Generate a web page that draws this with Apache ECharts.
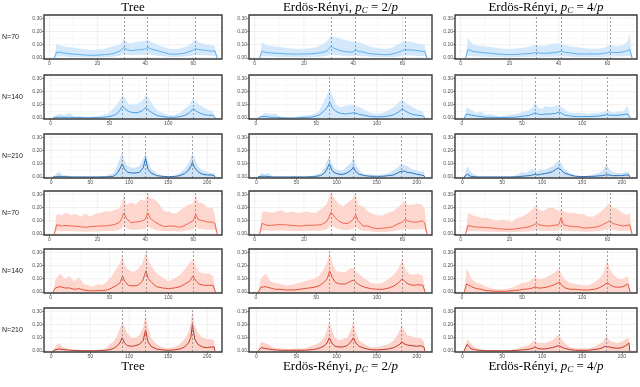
<!DOCTYPE html>
<html>
<head>
<meta charset="utf-8">
<script src="https://cdn.jsdelivr.net/npm/echarts@6/dist/echarts.min.js"></script>
<style>
  html, body { margin: 0; padding: 0; background: #fff; }
  #main { width: 640px; height: 387px; }
</style>
</head>
<body>
<div id="main"></div>
<script>
// column titles (rich text) and row labels
const colTitles = [
  '{n|Tree}',
  '{n|Erdös-Rényi, }{i|p}{s|C}{n| = 2/}{i|p}',
  '{n|Erdös-Rényi, }{i|p}{s|C}{n| = 4/}{i|p}'
]
const rowLabels = ['N=70', 'N=140', 'N=210', 'N=70', 'N=140', 'N=210']
const rowN = [70, 140, 210, 70, 140, 210]

// x positions (node index) per N
const x70 = [2, 3, 5, 7, 9, 11, 13, 15, 17, 19, 21, 23, 25, 27, 29, 30, 31, 32, 34, 36, 38, 40, 41, 42, 44, 46, 48, 50, 52, 54, 56, 58, 60, 61, 62, 64, 66, 68, 69, 70]
const x140 = [2, 4, 8, 12, 16, 20, 24, 28, 32, 36, 40, 44, 48, 52, 56, 59, 61, 63, 66, 70, 74, 78, 81, 83, 86, 90, 95, 100, 105, 110, 114, 118, 121, 123, 126, 130, 134, 138, 140]
const x210 = [2, 6, 10, 15, 20, 25, 30, 40, 50, 60, 70, 75, 80, 85, 88, 91, 94, 98, 103, 108, 113, 118, 121, 124, 128, 135, 142, 150, 158, 165, 171, 176, 179, 181, 184, 188, 194, 200, 205, 209, 210]

// dashed reference positions and tick labels
const peaks70 = [31, 41, 61]
const peaks140 = [61, 81, 121]
const peaks210 = [91, 121, 181]
const ticks70 = [0, 20, 40, 60]
const ticks140 = [0, 50, 100]
const ticks210 = [0, 50, 100, 150, 200]
const yTicks = [0, 0.1, 0.2, 0.3]
const yMinor = [0.05, 0.15, 0.25]

// ---- blue, N=70 ----
const blueTree70 = [0, 0.045, 0.04, 0.035, 0.03, 0.028, 0.025, 0.022, 0.02, 0.02, 0.022, 0.025, 0.028, 0.035, 0.05, 0.06, 0.08, 0.065, 0.055, 0.06, 0.062, 0.068, 0.08, 0.07, 0.06, 0.05, 0.04, 0.03, 0.028, 0.03, 0.035, 0.045, 0.06, 0.07, 0.065, 0.06, 0.055, 0.05, 0.055, 0]
const blueTree70Hi = [0, 0.11, 0.09, 0.085, 0.08, 0.075, 0.07, 0.065, 0.06, 0.062, 0.065, 0.07, 0.08, 0.09, 0.10, 0.11, 0.15, 0.12, 0.11, 0.12, 0.125, 0.13, 0.14, 0.125, 0.11, 0.095, 0.08, 0.07, 0.068, 0.07, 0.08, 0.095, 0.12, 0.14, 0.12, 0.11, 0.10, 0.095, 0.09, 0]
const blueTree70Lo = [0, 0.012, 0.01, 0.01, 0.008, 0.007, 0.006, 0.005, 0.005, 0.005, 0.005, 0.006, 0.007, 0.01, 0.015, 0.02, 0.03, 0.025, 0.02, 0.02, 0.022, 0.025, 0.03, 0.025, 0.02, 0.015, 0.012, 0.008, 0.007, 0.008, 0.01, 0.012, 0.02, 0.025, 0.022, 0.02, 0.018, 0.015, 0.015, 0]
const blueEr2_70 = [0, 0.05, 0.04, 0.038, 0.035, 0.033, 0.03, 0.03, 0.028, 0.03, 0.03, 0.032, 0.035, 0.04, 0.05, 0.065, 0.09, 0.075, 0.06, 0.05, 0.045, 0.045, 0.065, 0.05, 0.045, 0.035, 0.03, 0.028, 0.025, 0.025, 0.03, 0.04, 0.055, 0.065, 0.06, 0.06, 0.055, 0.05, 0.05, 0]
const blueEr2_70Hi = [0, 0.12, 0.095, 0.09, 0.085, 0.08, 0.075, 0.07, 0.07, 0.07, 0.072, 0.075, 0.08, 0.10, 0.12, 0.14, 0.17, 0.16, 0.15, 0.14, 0.13, 0.12, 0.12, 0.12, 0.11, 0.09, 0.08, 0.075, 0.07, 0.07, 0.08, 0.10, 0.12, 0.13, 0.125, 0.12, 0.11, 0.105, 0.10, 0]
const blueEr2_70Lo = [0, 0.012, 0.01, 0.01, 0.009, 0.008, 0.008, 0.007, 0.007, 0.007, 0.008, 0.008, 0.009, 0.01, 0.015, 0.02, 0.03, 0.025, 0.02, 0.015, 0.012, 0.012, 0.02, 0.015, 0.012, 0.01, 0.008, 0.007, 0.006, 0.006, 0.008, 0.01, 0.015, 0.02, 0.018, 0.018, 0.015, 0.013, 0.013, 0]
const blueEr4_70 = [0, 0.065, 0.05, 0.045, 0.04, 0.038, 0.033, 0.03, 0.028, 0.025, 0.025, 0.027, 0.03, 0.032, 0.035, 0.038, 0.04, 0.038, 0.035, 0.037, 0.04, 0.045, 0.055, 0.045, 0.04, 0.035, 0.03, 0.03, 0.03, 0.03, 0.03, 0.033, 0.04, 0.045, 0.042, 0.04, 0.045, 0.055, 0.065, 0]
const blueEr4_70Hi = [0, 0.15, 0.10, 0.095, 0.09, 0.085, 0.08, 0.075, 0.07, 0.07, 0.07, 0.072, 0.075, 0.08, 0.09, 0.095, 0.10, 0.095, 0.09, 0.10, 0.11, 0.11, 0.11, 0.10, 0.09, 0.085, 0.08, 0.075, 0.07, 0.07, 0.07, 0.075, 0.09, 0.10, 0.095, 0.09, 0.095, 0.12, 0.18, 0]
const blueEr4_70Lo = [0, 0.015, 0.012, 0.01, 0.01, 0.009, 0.008, 0.007, 0.007, 0.006, 0.006, 0.006, 0.007, 0.008, 0.008, 0.009, 0.01, 0.009, 0.008, 0.009, 0.01, 0.011, 0.014, 0.011, 0.01, 0.008, 0.007, 0.007, 0.007, 0.007, 0.007, 0.008, 0.01, 0.011, 0.01, 0.01, 0.011, 0.013, 0.015, 0]

// ---- blue, N=140 ----
const blueTree140 = [0, 0.005, 0.005, 0.004, 0.005, 0.003, 0.003, 0.002, 0.002, 0.002, 0.003, 0.004, 0.008, 0.015, 0.03, 0.06, 0.09, 0.07, 0.05, 0.04, 0.04, 0.055, 0.08, 0.06, 0.04, 0.02, 0.01, 0.005, 0.005, 0.01, 0.02, 0.04, 0.07, 0.055, 0.04, 0.025, 0.02, 0.02, 0]
const blueTree140Hi = [0, 0.02, 0.03, 0.02, 0.04, 0.01, 0.015, 0.01, 0.005, 0.01, 0.015, 0.02, 0.03, 0.06, 0.10, 0.14, 0.18, 0.15, 0.11, 0.10, 0.11, 0.13, 0.18, 0.15, 0.11, 0.06, 0.04, 0.02, 0.02, 0.04, 0.07, 0.10, 0.15, 0.12, 0.10, 0.08, 0.06, 0.05, 0]
const blueEr2_140 = [0, 0.01, 0.01, 0.005, 0.005, 0.002, 0, 0, 0, 0.002, 0.003, 0.005, 0.01, 0.02, 0.05, 0.08, 0.12, 0.08, 0.05, 0.035, 0.03, 0.035, 0.04, 0.035, 0.025, 0.02, 0.01, 0.008, 0.01, 0.015, 0.025, 0.045, 0.07, 0.055, 0.04, 0.025, 0.02, 0.015, 0]
const blueEr2_140Hi = [0, 0.02, 0.04, 0.03, 0.035, 0.01, 0.005, 0, 0.005, 0.015, 0.02, 0.02, 0.03, 0.05, 0.12, 0.18, 0.22, 0.18, 0.10, 0.08, 0.09, 0.10, 0.10, 0.09, 0.08, 0.06, 0.04, 0.03, 0.04, 0.06, 0.08, 0.12, 0.14, 0.12, 0.10, 0.08, 0.06, 0.05, 0]
const blueEr4_140 = [0, 0.03, 0.02, 0.015, 0.01, 0.005, 0.005, 0.003, 0.003, 0.003, 0.005, 0.005, 0.01, 0.015, 0.02, 0.03, 0.04, 0.03, 0.025, 0.03, 0.03, 0.035, 0.045, 0.035, 0.02, 0.015, 0.01, 0.01, 0.01, 0.012, 0.015, 0.02, 0.025, 0.02, 0.02, 0.02, 0.025, 0.03, 0]
const blueEr4_140Hi = [0, 0.08, 0.06, 0.04, 0.05, 0.02, 0.03, 0.02, 0.015, 0.02, 0.025, 0.03, 0.04, 0.05, 0.06, 0.08, 0.12, 0.08, 0.07, 0.09, 0.08, 0.09, 0.10, 0.08, 0.06, 0.04, 0.04, 0.04, 0.03, 0.04, 0.04, 0.05, 0.06, 0.05, 0.04, 0.05, 0.05, 0.09, 0]

// ---- blue, N=210 ----
const blueTree210 = [0, 0.002, 0.005, 0.002, 0.002, 0, 0, 0, 0, 0, 0.001, 0.003, 0.005, 0.03, 0.06, 0.10, 0.06, 0.035, 0.03, 0.03, 0.035, 0.07, 0.14, 0.06, 0.03, 0.01, 0.005, 0.002, 0.003, 0.01, 0.025, 0.05, 0.08, 0.11, 0.07, 0.04, 0.02, 0.015, 0.015, 0.01, 0]
const blueTree210Hi = [0, 0.02, 0.04, 0.01, 0.015, 0.003, 0, 0, 0, 0, 0.005, 0.02, 0.03, 0.09, 0.14, 0.19, 0.12, 0.08, 0.07, 0.07, 0.08, 0.14, 0.18, 0.12, 0.06, 0.03, 0.01, 0.005, 0.01, 0.03, 0.06, 0.10, 0.15, 0.18, 0.14, 0.08, 0.05, 0.04, 0.03, 0.03, 0]
const blueEr2_210 = [0, 0.005, 0.005, 0.003, 0, 0, 0, 0, 0, 0, 0.002, 0.005, 0.01, 0.03, 0.06, 0.10, 0.05, 0.03, 0.02, 0.02, 0.03, 0.05, 0.075, 0.04, 0.02, 0.01, 0.005, 0.005, 0.005, 0.01, 0.015, 0.03, 0.04, 0.055, 0.045, 0.035, 0.03, 0.02, 0.015, 0.01, 0]
const blueEr2_210Hi = [0, 0.03, 0.02, 0.03, 0.005, 0, 0, 0, 0.01, 0, 0.01, 0.02, 0.03, 0.07, 0.12, 0.16, 0.10, 0.06, 0.05, 0.05, 0.08, 0.11, 0.15, 0.09, 0.05, 0.02, 0.02, 0.01, 0.02, 0.03, 0.05, 0.07, 0.09, 0.10, 0.09, 0.08, 0.06, 0.05, 0.04, 0.04, 0]
const blueEr4_210 = [0, 0.02, 0.005, 0.002, 0, 0, 0, 0, 0, 0, 0.002, 0.005, 0.008, 0.01, 0.015, 0.02, 0.015, 0.02, 0.025, 0.03, 0.04, 0.06, 0.07, 0.05, 0.03, 0.015, 0.005, 0.003, 0.003, 0.005, 0.008, 0.01, 0.015, 0.02, 0.015, 0.01, 0.01, 0.01, 0.015, 0.015, 0]
const blueEr4_210Hi = [0, 0.08, 0.04, 0.02, 0.005, 0, 0, 0, 0, 0, 0.02, 0.04, 0.03, 0.05, 0.06, 0.05, 0.04, 0.06, 0.05, 0.07, 0.08, 0.11, 0.12, 0.10, 0.06, 0.03, 0.01, 0.005, 0.01, 0.02, 0.03, 0.05, 0.08, 0.10, 0.06, 0.04, 0.03, 0.03, 0.04, 0.04, 0]

// ---- red, N=70 ----
const redTree70 = [0, 0.07, 0.06, 0.065, 0.06, 0.058, 0.055, 0.05, 0.055, 0.058, 0.06, 0.06, 0.065, 0.07, 0.085, 0.11, 0.16, 0.12, 0.085, 0.09, 0.095, 0.11, 0.16, 0.12, 0.09, 0.07, 0.055, 0.06, 0.06, 0.05, 0.06, 0.08, 0.10, 0.15, 0.11, 0.10, 0.09, 0.09, 0.08, 0]
const redTree70Hi = [0, 0.15, 0.14, 0.16, 0.14, 0.15, 0.13, 0.15, 0.13, 0.15, 0.16, 0.17, 0.17, 0.18, 0.19, 0.22, 0.30, 0.22, 0.24, 0.22, 0.26, 0.25, 0.31, 0.27, 0.26, 0.22, 0.17, 0.17, 0.15, 0.17, 0.20, 0.22, 0.23, 0.30, 0.24, 0.23, 0.20, 0.20, 0.15, 0]
const redTree70Lo = [0, 0.025, 0.02, 0.022, 0.02, 0.02, 0.018, 0.017, 0.018, 0.019, 0.02, 0.02, 0.022, 0.024, 0.03, 0.04, 0.06, 0.045, 0.03, 0.032, 0.034, 0.04, 0.06, 0.045, 0.032, 0.025, 0.02, 0.02, 0.02, 0.018, 0.02, 0.028, 0.035, 0.055, 0.04, 0.035, 0.032, 0.032, 0.028, 0]
const redEr2_70 = [0, 0.08, 0.065, 0.065, 0.07, 0.07, 0.068, 0.065, 0.062, 0.06, 0.065, 0.065, 0.067, 0.07, 0.09, 0.12, 0.165, 0.14, 0.10, 0.08, 0.08, 0.11, 0.145, 0.10, 0.06, 0.06, 0.045, 0.04, 0.043, 0.048, 0.055, 0.075, 0.09, 0.11, 0.10, 0.09, 0.09, 0.10, 0.085, 0]
const redEr2_70Hi = [0, 0.17, 0.17, 0.16, 0.17, 0.18, 0.16, 0.17, 0.16, 0.16, 0.17, 0.16, 0.16, 0.19, 0.22, 0.26, 0.32, 0.28, 0.23, 0.21, 0.24, 0.27, 0.31, 0.22, 0.21, 0.17, 0.15, 0.14, 0.14, 0.16, 0.17, 0.20, 0.23, 0.25, 0.22, 0.22, 0.23, 0.22, 0.19, 0]
const redEr2_70Lo = [0, 0.03, 0.025, 0.025, 0.026, 0.026, 0.025, 0.024, 0.023, 0.022, 0.024, 0.024, 0.025, 0.026, 0.032, 0.045, 0.065, 0.055, 0.038, 0.03, 0.03, 0.04, 0.055, 0.038, 0.022, 0.022, 0.016, 0.014, 0.015, 0.017, 0.02, 0.028, 0.034, 0.042, 0.038, 0.034, 0.034, 0.038, 0.032, 0]
const redEr4_70 = [0, 0.065, 0.055, 0.052, 0.05, 0.047, 0.045, 0.04, 0.037, 0.035, 0.035, 0.04, 0.045, 0.05, 0.06, 0.07, 0.08, 0.07, 0.062, 0.06, 0.065, 0.07, 0.12, 0.07, 0.06, 0.055, 0.055, 0.045, 0.045, 0.05, 0.055, 0.07, 0.09, 0.10, 0.08, 0.07, 0.06, 0.065, 0.07, 0]
const redEr4_70Hi = [0, 0.16, 0.14, 0.13, 0.12, 0.12, 0.11, 0.10, 0.11, 0.10, 0.09, 0.12, 0.13, 0.15, 0.18, 0.20, 0.22, 0.18, 0.175, 0.20, 0.20, 0.17, 0.19, 0.17, 0.16, 0.16, 0.15, 0.15, 0.13, 0.13, 0.15, 0.18, 0.22, 0.23, 0.20, 0.19, 0.16, 0.14, 0.16, 0]
const redEr4_70Lo = [0, 0.025, 0.02, 0.02, 0.018, 0.017, 0.016, 0.015, 0.014, 0.013, 0.013, 0.015, 0.017, 0.018, 0.022, 0.026, 0.03, 0.026, 0.023, 0.022, 0.024, 0.026, 0.045, 0.026, 0.022, 0.02, 0.02, 0.017, 0.017, 0.018, 0.02, 0.026, 0.033, 0.037, 0.03, 0.026, 0.022, 0.024, 0.026, 0]

// ---- red, N=140 ----
const redTree140 = [0, 0.03, 0.04, 0.03, 0.03, 0.02, 0.025, 0.015, 0.01, 0.008, 0.01, 0.01, 0.015, 0.03, 0.05, 0.07, 0.12, 0.08, 0.05, 0.045, 0.05, 0.08, 0.16, 0.10, 0.07, 0.04, 0.03, 0.025, 0.03, 0.04, 0.06, 0.08, 0.12, 0.09, 0.06, 0.05, 0.05, 0.05, 0]
const redTree140Hi = [0, 0.09, 0.14, 0.10, 0.12, 0.08, 0.11, 0.06, 0.05, 0.04, 0.06, 0.05, 0.08, 0.12, 0.18, 0.22, 0.28, 0.20, 0.17, 0.15, 0.17, 0.22, 0.31, 0.24, 0.19, 0.14, 0.11, 0.08, 0.10, 0.13, 0.17, 0.22, 0.25, 0.20, 0.15, 0.14, 0.14, 0.12, 0]
const redEr2_140 = [0, 0.035, 0.04, 0.03, 0.02, 0.02, 0.015, 0.015, 0.015, 0.02, 0.025, 0.03, 0.035, 0.045, 0.07, 0.10, 0.16, 0.11, 0.07, 0.06, 0.06, 0.08, 0.09, 0.07, 0.05, 0.035, 0.025, 0.02, 0.02, 0.03, 0.045, 0.07, 0.10, 0.08, 0.06, 0.05, 0.055, 0.05, 0]
const redEr2_140Hi = [0, 0.10, 0.14, 0.08, 0.07, 0.06, 0.05, 0.05, 0.06, 0.07, 0.08, 0.09, 0.10, 0.12, 0.17, 0.23, 0.30, 0.22, 0.16, 0.15, 0.15, 0.18, 0.18, 0.15, 0.13, 0.10, 0.07, 0.06, 0.07, 0.10, 0.13, 0.18, 0.25, 0.19, 0.14, 0.13, 0.14, 0.12, 0]
const redEr4_140 = [0, 0.06, 0.04, 0.025, 0.02, 0.01, 0.008, 0.005, 0.005, 0.005, 0.008, 0.01, 0.015, 0.02, 0.025, 0.03, 0.04, 0.03, 0.03, 0.035, 0.045, 0.06, 0.075, 0.05, 0.03, 0.02, 0.02, 0.015, 0.015, 0.02, 0.03, 0.05, 0.07, 0.055, 0.04, 0.035, 0.04, 0.06, 0]
const redEr4_140Hi = [0, 0.18, 0.10, 0.07, 0.06, 0.04, 0.03, 0.02, 0.02, 0.02, 0.03, 0.04, 0.06, 0.07, 0.08, 0.10, 0.12, 0.10, 0.10, 0.11, 0.13, 0.15, 0.18, 0.13, 0.09, 0.07, 0.06, 0.05, 0.05, 0.07, 0.10, 0.15, 0.25, 0.17, 0.13, 0.10, 0.10, 0.12, 0]

// ---- red, N=210 ----
const redTree210 = [0, 0.01, 0.015, 0.01, 0.008, 0.005, 0.003, 0.002, 0.002, 0.002, 0.005, 0.01, 0.02, 0.04, 0.06, 0.10, 0.06, 0.04, 0.035, 0.04, 0.05, 0.08, 0.16, 0.07, 0.035, 0.015, 0.008, 0.005, 0.008, 0.015, 0.03, 0.06, 0.10, 0.20, 0.09, 0.05, 0.03, 0.025, 0.03, 0.03, 0]
const redTree210Hi = [0, 0.04, 0.06, 0.03, 0.02, 0.01, 0.01, 0.005, 0.005, 0.005, 0.02, 0.05, 0.07, 0.12, 0.17, 0.22, 0.18, 0.13, 0.10, 0.10, 0.12, 0.18, 0.28, 0.18, 0.10, 0.05, 0.03, 0.02, 0.03, 0.05, 0.09, 0.14, 0.22, 0.30, 0.20, 0.14, 0.10, 0.09, 0.09, 0.08, 0]
const redEr2_210 = [0, 0.025, 0.02, 0.015, 0.01, 0.008, 0.005, 0.005, 0.005, 0.005, 0.01, 0.015, 0.025, 0.04, 0.06, 0.10, 0.06, 0.035, 0.03, 0.03, 0.04, 0.07, 0.10, 0.06, 0.035, 0.02, 0.01, 0.008, 0.01, 0.015, 0.025, 0.04, 0.05, 0.07, 0.055, 0.045, 0.04, 0.035, 0.04, 0.03, 0]
const redEr2_210Hi = [0, 0.07, 0.06, 0.05, 0.03, 0.02, 0.02, 0.015, 0.02, 0.02, 0.04, 0.05, 0.07, 0.11, 0.16, 0.22, 0.16, 0.10, 0.08, 0.09, 0.10, 0.16, 0.22, 0.14, 0.08, 0.05, 0.03, 0.03, 0.04, 0.05, 0.08, 0.12, 0.16, 0.20, 0.16, 0.12, 0.11, 0.10, 0.10, 0.07, 0]
const redEr4_210 = [0, 0.05, 0.02, 0.01, 0.005, 0.003, 0.002, 0.002, 0.002, 0.002, 0.005, 0.008, 0.01, 0.015, 0.02, 0.03, 0.02, 0.015, 0.015, 0.02, 0.025, 0.035, 0.04, 0.03, 0.02, 0.01, 0.005, 0.005, 0.005, 0.01, 0.015, 0.025, 0.035, 0.04, 0.03, 0.025, 0.02, 0.025, 0.04, 0.06, 0]
const redEr4_210Hi = [0, 0.09, 0.06, 0.03, 0.02, 0.01, 0.005, 0.005, 0.005, 0.005, 0.02, 0.03, 0.04, 0.05, 0.07, 0.08, 0.06, 0.06, 0.06, 0.07, 0.08, 0.11, 0.12, 0.09, 0.06, 0.03, 0.02, 0.02, 0.02, 0.03, 0.05, 0.07, 0.10, 0.12, 0.08, 0.07, 0.06, 0.07, 0.09, 0.10, 0]

// panels, row by row: [mean, upper, lower]
const panels = [
  [[blueTree70, blueTree70Hi, blueTree70Lo], [blueEr2_70, blueEr2_70Hi, blueEr2_70Lo], [blueEr4_70, blueEr4_70Hi, blueEr4_70Lo]],
  [[blueTree140, blueTree140Hi], [blueEr2_140, blueEr2_140Hi], [blueEr4_140, blueEr4_140Hi]],
  [[blueTree210, blueTree210Hi], [blueEr2_210, blueEr2_210Hi], [blueEr4_210, blueEr4_210Hi]],
  [[redTree70, redTree70Hi, redTree70Lo], [redEr2_70, redEr2_70Hi, redEr2_70Lo], [redEr4_70, redEr4_70Hi, redEr4_70Lo]],
  [[redTree140, redTree140Hi], [redEr2_140, redEr2_140Hi], [redEr4_140, redEr4_140Hi]],
  [[redTree210, redTree210Hi], [redEr2_210, redEr2_210Hi], [redEr4_210, redEr4_210Hi]]
]

// axis settings per N
const axisByN = {
  70: { xs: x70, min: -2.3, max: 72, ticks: ticks70, minor: [10, 30, 50, 70], peaks: peaks70 },
  140: { xs: x140, min: -5.7, max: 145.6, ticks: ticks140, minor: [25, 75, 125], peaks: peaks140 },
  210: { xs: x210, min: -9.3, max: 219, ticks: ticks210, minor: [25, 75, 125, 175], peaks: peaks210 }
}

// layout
const colLeft = [44, 249, 455]
const colRight = [222, 432, 637]
const rowTop = [15, 75, 134, 191, 249, 308]
const rowH = 44
const yMin = -0.008
const yMax = 0.325
const lineColors = ['#5eb0ec', '#4a9de2', '#2f72b8', '#f2674f', '#e3523c', '#bd392a']
const bandColors = ['#d3e8fb', '#d3e8fb', '#cde3f8', '#fdd6cd', '#fdd6cd', '#fbd3ca']

const myChart = echarts.init(document.getElementById('main'))
const grid = []
const xAxis = []
const yAxis = []
const series = []
const graphic = []

panels.forEach((row, r) => {
  const ax = axisByN[rowN[r]]
  row.forEach((p, c) => {
    const i = grid.length
    const mean = p[0]
    const hi = p[1]
    const lo = p[2] || ax.xs.map(() => 0)
    grid.push({
      left: colLeft[c], top: rowTop[r], width: colRight[c] - colLeft[c], height: rowH,
      show: false
    })
    xAxis.push({
      gridIndex: i, type: 'value', min: ax.min, max: ax.max,
      axisLine: { show: false, onZero: false },
      splitLine: { show: false },
      axisTick: { customValues: ax.ticks, length: 2, lineStyle: { color: '#444', width: 0.6 } },
      axisLabel: { customValues: ax.ticks, fontSize: 5, color: '#4d4d4d', margin: 2, fontFamily: 'Liberation Sans' }
    })
    yAxis.push({
      gridIndex: i, type: 'value', min: yMin, max: yMax,
      axisLine: { show: false, onZero: false },
      splitLine: { show: false },
      axisTick: { customValues: yTicks, length: 2, lineStyle: { color: '#444', width: 0.6 } },
      axisLabel: {
        customValues: yTicks, fontSize: 5, color: '#4d4d4d', margin: 2, fontFamily: 'Liberation Sans',
        formatter: v => v.toFixed(2)
      }
    })
    // background grid lines + ribbon, drawn once per panel
    series.push({
      type: 'custom', xAxisIndex: i, yAxisIndex: i, silent: true, clip: false,
      data: ax.xs.map((x, k) => [x, lo[k], hi[k]]),
      encode: { x: 0, y: [1, 2] },
      renderItem: (params, api) => {
        if (params.dataIndex !== 0) return
        const kids = []
        const vLine = (v, color) => {
          const a = api.coord([v, yMin])
          const b = api.coord([v, yMax])
          kids.push({ type: 'line', shape: { x1: a[0], y1: a[1], x2: b[0], y2: b[1] }, style: { stroke: color, lineWidth: 0.6 } })
        }
        const hLine = (v, color) => {
          const a = api.coord([ax.min, v])
          const b = api.coord([ax.max, v])
          kids.push({ type: 'line', shape: { x1: a[0], y1: a[1], x2: b[0], y2: b[1] }, style: { stroke: color, lineWidth: 0.6 } })
        }
        ax.minor.forEach(v => vLine(v, '#f4f4f4'))
        yMinor.forEach(v => hLine(v, '#f4f4f4'))
        ax.ticks.forEach(v => vLine(v, '#e6e6e6'))
        yTicks.forEach(v => hLine(v, '#e6e6e6'))
        const top = ax.xs.map((x, k) => api.coord([x, hi[k]]))
        const bottom = ax.xs.map((x, k) => api.coord([x, lo[k]])).reverse()
        kids.push({ type: 'polygon', shape: { points: top.concat(bottom) }, style: { fill: bandColors[r] } })
        return { type: 'group', children: kids }
      }
    })
    series.push({
      type: 'line', xAxisIndex: i, yAxisIndex: i,
      data: ax.xs.map((x, k) => [x, mean[k]]),
      symbol: 'none', silent: true,
      lineStyle: { color: lineColors[r], width: 1 },
      itemStyle: { color: lineColors[r] },
      markLine: {
        silent: true, symbol: 'none', animation: false, label: { show: false },
        lineStyle: { color: '#8a8a8a', type: [2, 2], width: 0.8 },
        data: ax.peaks.map(v => ({ xAxis: v }))
      }
    })
    // panel frame, on top of the marks
    series.push({
      type: 'custom', xAxisIndex: i, yAxisIndex: i, silent: true, clip: false, z: 5,
      data: [[ax.min, yMin, ax.max, yMax]],
      renderItem: (params, api) => {
        const a = api.coord([api.value(0), api.value(1)])
        const b = api.coord([api.value(2), api.value(3)])
        return {
          type: 'rect',
          shape: { x: a[0], y: b[1], width: b[0] - a[0], height: a[1] - b[1] },
          style: { fill: 'none', stroke: '#3a3a3a', lineWidth: 1.4 }
        }
      }
    })
  })
  graphic.push({
    type: 'text', x: 2, y: rowTop[r] + rowH / 2,
    style: { text: rowLabels[r], fontSize: 7, fill: '#222', fontFamily: 'Liberation Sans', verticalAlign: 'middle' }
  })
})

const titleRich = {
  n: { fontFamily: 'Liberation Serif', fontSize: 13, lineHeight: 15, color: '#1a1a1a' },
  i: { fontFamily: 'Liberation Serif', fontStyle: 'italic', fontSize: 13, lineHeight: 15, color: '#1a1a1a' },
  s: { fontFamily: 'Liberation Serif', fontStyle: 'italic', fontSize: 9, lineHeight: 9, verticalAlign: 'bottom', color: '#1a1a1a' }
}
colTitles.forEach((t, c) => {
  const cx = (colLeft[c] + colRight[c]) / 2;
  [7.5, 367].forEach(y => {
    graphic.push({
      type: 'text', x: cx, y: y,
      style: { text: t, rich: titleRich, align: 'center', verticalAlign: 'middle' }
    })
  })
})

myChart.setOption({
  animation: false,
  grid: grid,
  xAxis: xAxis,
  yAxis: yAxis,
  series: series,
  graphic: graphic
})
</script>
</body>
</html>
